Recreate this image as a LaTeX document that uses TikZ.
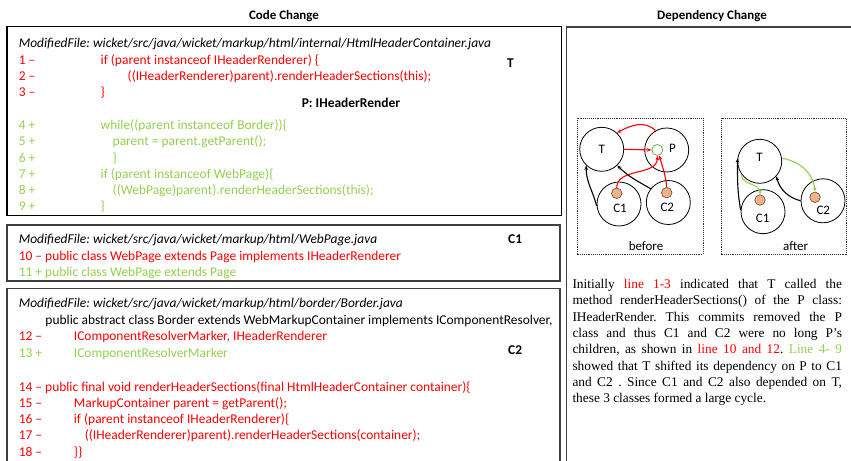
\documentclass[tikz,border=0pt]{standalone}
\usepackage{fontspec}
\setmainfont{Carlito}
\newfontfamily\timesfont{Liberation Serif}
\usetikzlibrary{arrows.meta}
\definecolor{codered}{HTML}{FF0000}
\definecolor{codegreen}{HTML}{92D050}
\definecolor{dotfill}{HTML}{F4B183}
\definecolor{ringgreen}{HTML}{70AD47}
\frenchspacing
\begin{document}
\begin{tikzpicture}[x=1bp,y=1bp,
  code/.style={anchor=base west,inner sep=0pt,font=\fontsize{13.5}{16}\selectfont},
  plain/.style={code,text=black},
  del/.style={code,text=codered},
  add/.style={code,text=codegreen},
  tag/.style={code,font=\fontsize{13.5}{16}\selectfont\bfseries},
  title/.style={inner sep=0pt,font=\fontsize{13}{15}\selectfont\bfseries},
  frame/.style={draw=black,line width=1.1bp},
  grayframe/.style={draw=black!75,line width=1.4bp},
  dotframe/.style={draw=black!80,line width=0.9bp,densely dotted},
  cls/.style={circle,draw=black,line width=0.8bp,fill=white,minimum size=44bp,inner sep=0pt},
  lbl/.style={inner sep=0pt,font=\fontsize{13}{15}\selectfont},
  dot/.style={circle,draw=black!70,line width=0.6bp,fill=dotfill,minimum size=10.5bp,inner sep=0pt},
  ring/.style={circle,draw=ringgreen,line width=0.8bp,fill=white,minimum size=11bp,inner sep=0pt},
  arr/.style={-{Stealth[length=4.5bp,width=3.6bp]},line width=1.1bp},
  para/.style={anchor=base west,inner sep=0pt,text width=269.5bp,align=justify,
    font=\timesfont\fontsize{13.4}{16.4}\selectfont}]
\useasboundingbox (0,0) rectangle (851,-461);

% ---- headings
\node[title] (hcode) at (284,-16) {Code Change};
\node[title] (hdep) at (712,-16) {Dependency Change};

% ---- frames
\draw[frame] (7,-26.5) rectangle (561.7,-215.5);
\draw[grayframe] (7,-225) rectangle (560,-281);
\draw[grayframe] (7,-463) -- (7,-288.3) -- (560,-288.3) -- (560,-463);
\draw[grayframe,line width=1.1bp] (566.5,-463) -- (566.5,-27) -- (853,-27);

% ---- HtmlHeaderContainer.java
\node[plain] (mf1) at (18.6,-47.8) {\itshape ModifiedFile: wicket/src/java/wicket/markup/html/internal/HtmlHeaderContainer.java};
\node[del] (n1) at (18.6,-64.5) {1 –};
\node[del] (c1) at (100.5,-64.5) {if (parent instanceof IHeaderRenderer) \{};
\node[del] (n2) at (18.6,-80.8) {2 –};
\node[del] (c2) at (127.5,-80.8) {((IHeaderRenderer)parent).renderHeaderSections(this);};
\node[del] (n3) at (18.6,-97) {3 –};
\node[del] (c3) at (100.5,-97) {\}};
\node[tag] (tagT) at (507,-67.5) {T};
\node[tag] (tagP) at (301.6,-107.2) {P: IHeaderRender};
\node[add] (n4) at (18.6,-129.5) {4 +};
\node[add] (c4) at (100.5,-129.5) {while((parent instanceof Border))\{};
\node[add] (n5) at (18.6,-145.8) {5 +};
\node[add] (c5) at (112.5,-145.8) {parent = parent.getParent();};
\node[add] (n6) at (18.6,-162.1) {6 +};
\node[add] (c6) at (112.5,-162.1) {\}};
\node[add] (n7) at (18.6,-178.4) {7 +};
\node[add] (c7) at (100.5,-178.4) {if (parent instanceof WebPage)\{};
\node[add] (n8) at (18.6,-194.7) {8 +};
\node[add] (c8) at (112.5,-194.7) {((WebPage)parent).renderHeaderSections(this);};
\node[add] (n9) at (18.6,-211) {9 +};
\node[add] (c9) at (100.5,-211) {\}};

% ---- WebPage.java
\node[plain] (mf2) at (18.6,-243.5) {\itshape ModifiedFile: wicket/src/java/wicket/markup/html/WebPage.java};
\node[tag] (tagC1) at (508,-243.5) {C1};
\node[del] (l10) at (18.6,-260.5) {10 – public class WebPage extends Page implements IHeaderRenderer};
\node[add] (l11) at (18.6,-276.8) {11 + public class WebPage extends Page};

% ---- Border.java
\node[plain] (mf3) at (18.6,-307.5) {\itshape ModifiedFile: wicket/src/java/wicket/markup/html/border/Border.java};
\node[plain] (decl) at (45.3,-324.3) {public abstract class Border extends WebMarkupContainer implements IComponentResolver,};
\node[del] (n12) at (18.6,-341) {12 –};
\node[del] (c12) at (73.7,-341) {IComponentResolverMarker, IHeaderRenderer};
\node[add] (n13) at (18.6,-357.3) {13 +};
\node[add] (c13) at (73.7,-357.3) {IComponentResolverMarker};
\node[tag] (tagC2) at (508,-354.5) {C2};
\node[del] (l14) at (18.6,-391) {14 – public final void renderHeaderSections(final HtmlHeaderContainer container)\{};
\node[del] (n15) at (18.6,-407.3) {15 –};
\node[del] (c15) at (73.7,-407.3) {MarkupContainer parent = getParent();};
\node[del] (n16) at (18.6,-423.6) {16 –};
\node[del] (c16) at (73.7,-423.6) {if (parent instanceof IHeaderRenderer)\{};
\node[del] (n17) at (18.6,-439.9) {17 –};
\node[del] (c17) at (84.6,-439.9) {((IHeaderRenderer)parent).renderHeaderSections(container);};
\node[del] (n18) at (18.6,-456.2) {18 –};
\node[del] (c18) at (73.7,-456.2) {\}\}};

% ---- dependency graph: before
\draw[dotframe] (577,-118.5) rectangle (703,-254);
\node[cls] (bT) at (601.7,-149.3) {};
\node[cls] (bP) at (666.7,-150) {};
\node[cls] (bC1) at (619,-204) {};
\node[cls] (bC2) at (668.3,-202.5) {};
\node[lbl] (bTl) at (601.7,-149.3) {T};
\node[lbl] (bPl) at (672.5,-148.3) {P};
\node[lbl] (bC1l) at (620,-208.3) {C1};
\node[lbl] (bC2l) at (667.3,-207.3) {C2};
\node[ring] (g) at (657.3,-150) {};
\node[dot] (d1) at (616.7,-193.3) {};
\node[dot] (d2) at (666.7,-192.7) {};
\node[lbl] (before) at (646,-245.7) {before};
\draw[arr,codered] (bP.120) to[out=135,in=30] (bT.47);
\draw[arr,codered] (bT.east) -- (g.west);
\draw[arr,codered] (d1.north) to[out=90,in=-90] (g.south);
\draw[arr,codered] (d2.north) to[out=95,in=-75] (g.-70);
\draw[arr] (bC1.185) to[out=105,in=-90] (bT.226);
\draw[arr] (bC2.142) to[out=150,in=-45] (bT.-46);

% ---- dependency graph: after
\draw[dotframe] (721,-118.5) rectangle (846,-254);
\node[cls] (aT) at (759.7,-161.3) {};
\node[cls] (aC1) at (763,-211.7) {};
\node[cls] (aC2) at (823,-200.8) {};
\node[lbl] (aTl) at (759.5,-157.5) {T};
\node[lbl] (aC1l) at (762.7,-218.3) {C1};
\node[lbl] (aC2l) at (823.3,-210) {C2};
\node[dot] (ad1) at (760,-200) {};
\node[dot] (ad2) at (815,-197.3) {};
\node[lbl] (after) at (795.7,-245.7) {after};
\draw[arr] (aC1.176) to[out=100,in=-90] (aT.172);
\draw[arr,codegreen] (aT.215) to[out=-90,in=90] (ad1.north);
\draw[arr,codegreen] (aT.8) to[out=-10,in=95] (ad2.north);
\draw[arr] (aC2.180) to[out=165,in=-75] (aT.-42);

% ---- explanation
\node[para] (desc) at (572.3,-288.5) {Initially \textcolor{codered}{line 1-3} indicated that T called the\linebreak
method renderHeaderSections() of the P class:\linebreak
IHeaderRender. This commits removed the P\linebreak
class and thus C1 and C2 were no long P’s\linebreak
children, as shown in \textcolor{codered}{line 10 and 12}. \textcolor{codegreen}{Line 4- 9}\linebreak
showed that T shifted its dependency on P to C1\linebreak
and C2 . Since C1 and C2 also depended on T,\linebreak
these 3 classes formed a large cycle.};
\end{tikzpicture}
\end{document}
